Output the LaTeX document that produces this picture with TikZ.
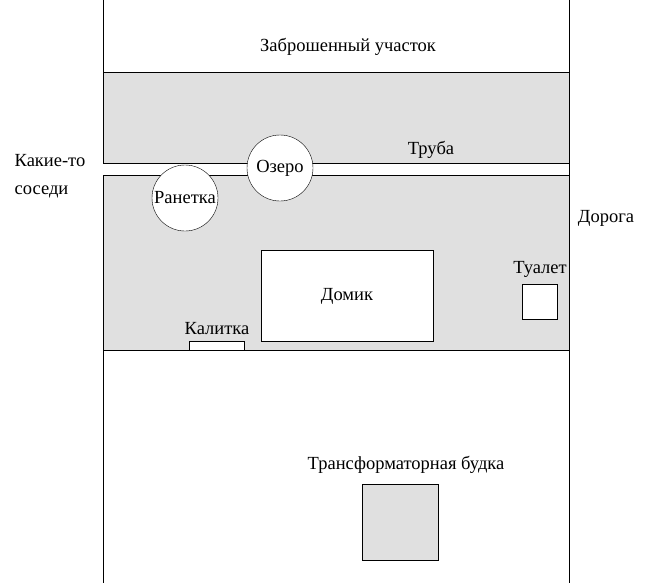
\documentclass[tikz,border=0pt]{standalone}
\usepackage{fontspec}
\setmainfont{Liberation Serif}
\usetikzlibrary{positioning}
\begin{document}
\begin{tikzpicture}[x=1pt, y=-1pt, thin,
    lbl/.style={font=\fontsize{18.5}{20}\selectfont, inner sep=0pt},
    plot/.style={draw, fill=white}]

    % Canvas
    \useasboundingbox (0,0) rectangle (650,583);
    \fill[white] (0,0) rectangle (650,583);

    % Gray yard band
    \draw[fill=black!12] (103,72) rectangle (569,350);
    % Borders
    \draw (103,0) -- (103,583);
    \draw (569,0) -- (569,583);

    % Pipe
    \fill[white] (103,163) rectangle (569,175);
    \draw (103,163) -- (569,163);
    \draw (103,175) -- (569,175);

    % Objects
    \node[plot, circle, minimum size=66pt, lbl] (ozero) at (280,168) {Озеро};
    \node[plot, circle, minimum size=66pt, lbl] (ranetka) at (185,198) {Ранетка};
    \node[plot, minimum width=172pt, minimum height=91pt, lbl] (domik) at (347,296) {Домик};
    \node[plot, minimum size=35pt] (tualet) at (540,302) {};
    \node[plot, minimum width=55pt, minimum height=9pt, inner sep=0pt] (kalitka) at (217,346) {};
    \node[draw, fill=black!12, minimum size=76pt] (budka) at (400,522) {};

    % Labels
    \node[lbl] (zabr) at (348,47) {Заброшенный участок};
    \node[lbl] (truba) at (431,150) {Труба};
    \node[lbl] (sosedi) at (50,176) {\begin{tabular}{@{}l@{}}Какие-то\\[8pt]соседи\end{tabular}};
    \node[lbl] (doroga) at (606,218) {Дорога};
    \node[lbl, above=7pt of tualet] (tualetL) {Туалет};
    \node[lbl, above=6pt of kalitka] (kalitkaL) {Калитка};
    \node[lbl] (budkaL) at (406,465) {Трансформаторная будка};

\end{tikzpicture}
\end{document}
